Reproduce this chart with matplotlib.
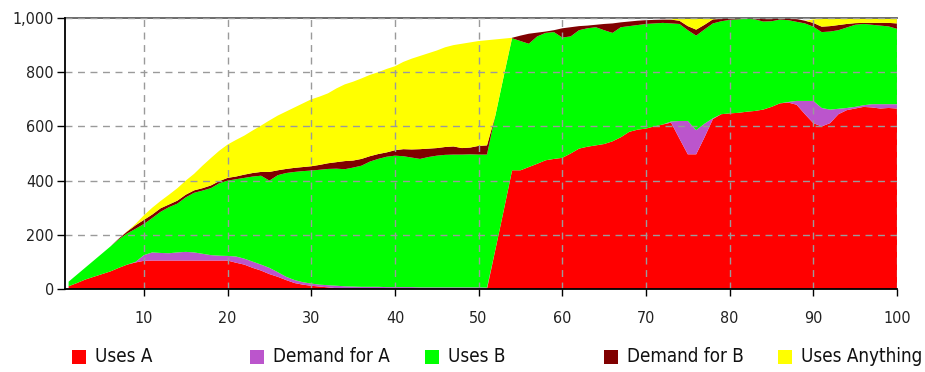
import numpy as np
import matplotlib
matplotlib.use("Agg")
import matplotlib.pyplot as plt
from matplotlib.patches import Rectangle
from matplotlib.ticker import FuncFormatter, FixedLocator
from matplotlib import font_manager

# ---------------- data ----------------
steps = list(range(1, 101))

uses_a = [10, 22, 35, 45, 55, 65, 78, 90, 98, 104,
          105, 105, 105, 105, 105, 105, 105, 105, 105, 105,
          97, 90, 78, 68, 55, 45, 33, 22, 16, 12,
          9, 6, 3, 1, 0, 0, 0, 0, 0, 0,
          0, 0, 0, 0, 0, 0, 0, 0, 0, 0,
          0, 145, 290, 438, 438, 450, 462, 475, 480, 484,
          500, 518, 525, 530, 535, 545, 560, 580, 588, 592,
          600, 607, 614, 555, 497, 497, 560, 627, 645, 648,
          650, 654, 657, 662, 672, 685, 688, 680, 645, 612,
          600, 612, 645, 660, 666, 672, 670, 666, 668, 666]

demand_a = [0, 0, 0, 0, 0, 0, 0, 0, 2, 21,
            30, 28, 27, 30, 32, 30, 25, 20, 18, 17,
            23, 22, 23, 22, 23, 17, 12, 11, 9, 8,
            7, 8, 9, 9, 9, 8, 8, 8, 7, 7,
            7, 7, 6, 6, 6, 6, 6, 6, 6, 6,
            5, 0, 0, 0, 0, 0, 0, 0, 0, 0,
            0, 0, 0, 0, 0, 0, 0, 0, 0, 0,
            0, 0, 4, 65, 123, 89, 50, 3, 0, 0,
            0, 0, 0, 0, 0, 0, 2, 14, 49, 82,
            68, 50, 20, 8, 6, 6, 12, 16, 14, 16]

uses_b = [17, 31, 44, 60, 76, 92, 105, 115, 122, 115,
          127, 152, 170, 180, 201, 220, 233, 247, 267, 278,
          285, 298, 314, 328, 322, 358, 383, 399, 410, 417,
          424, 429, 432, 432, 439, 447, 462, 472, 481, 485,
          483, 478, 474, 481, 486, 489, 490, 490, 491, 490,
          491, 495, 495, 487, 477, 455, 470, 470, 468, 444,
          432, 437, 437, 436, 420, 400, 406, 390, 386, 386,
          380, 375, 362, 358, 335, 349, 348, 350, 343, 345,
          345, 343, 338, 325, 316, 309, 302, 292, 286, 274,
          280, 288, 290, 297, 303, 300, 293, 290, 287, 278]

demand_b = [0, 0, 0, 0, 0, 0, 3, 7, 13, 15,
            13, 13, 10, 11, 10, 9, 9, 10, 8, 10,
            10, 12, 13, 14, 32, 18, 15, 15, 15, 16,
            18, 21, 24, 30, 26, 25, 20, 18, 16, 20,
            26, 30, 36, 31, 28, 29, 30, 24, 25, 32,
            34, 0, 0, 2, 20, 37, 14, 5, 7, 34,
            34, 15, 10, 9, 23, 35, 18, 17, 16, 14,
            13, 12, 14, 12, 15, 22, 17, 15, 9, 5,
            4, 2, 3, 9, 8, 3, 6, 10, 10, 14,
            20, 20, 19, 13, 6, 4, 7, 10, 13, 20]

uses_anything = [0, 0, 0, 0, 0, 0, 0, 1, 5, 17,
                 25, 27, 36, 46, 52, 61, 83, 101, 112, 123,
                 135, 144, 157, 171, 190, 202, 212, 223, 235, 247,
                 252, 258, 272, 283, 291, 297, 300, 302, 308, 310,
                 322, 335, 344, 352, 360, 368, 374, 385, 388, 387,
                 388, 281, 139, 0, 0, 0, 0, 0, 0, 0,
                 0, 0, 0, 0, 0, 0, 0, 0, 0, 0,
                 0, 0, 1, 8, 28, 41, 23, 2, 0, 0,
                 0, 0, 0, 0, 0, 0, 0, 0, 0, 13,
                 29, 27, 23, 19, 16, 15, 15, 15, 15, 17]

labels = ["Uses A", "Demand for A", "Uses B", "Demand for B", "Uses Anything"]
colors = ["#FF0000", "#BB55CC", "#00FF00", "#800000", "#FFFF00"]
x_ticks = [10, 20, 30, 40, 50, 60, 70, 80, 90, 100]
y_ticks = [0, 200, 400, 600, 800, 1000]

# ---------------- font ----------------
plt.rcParams["font.family"] = ["DejaVu Sans"]
has_condensed = any(f.name == "DejaVu Sans" and str(f.stretch) in ("condensed", "semi-condensed")
                    for f in font_manager.fontManager.ttflist)
if has_condensed:
    plt.rcParams["font.stretch"] = "condensed"
tick_size = 11.5 if has_condensed else 11
leg_size = 13.5 if has_condensed else 12.5

# ---------------- figure ----------------
W, H = 925, 372
fig = plt.figure(figsize=(W / 100, H / 100), dpi=100)
ax = fig.add_axes([65 / W, 1 - 289 / H, (897 - 65) / W, (289 - 18) / H])

ax.stackplot(steps, uses_a, demand_a, uses_b, demand_b, uses_anything,
             colors=colors, linewidth=0, zorder=2)

ax.set_xlim(0.57, 100)
ax.set_ylim(0, 1000)
ax.xaxis.set_major_locator(FixedLocator(x_ticks))
ax.yaxis.set_major_locator(FixedLocator(y_ticks))
ax.yaxis.set_major_formatter(FuncFormatter(lambda v, p: f"{int(v):,}"))

ax.grid(True, color="#9A9A9A", linestyle=(0, (5, 4)), linewidth=1.0, zorder=3)
ax.set_axisbelow(False)

for side in ("left", "bottom"):
    ax.spines[side].set_color("black")
    ax.spines[side].set_linewidth(1.3)
    ax.spines[side].set_zorder(4)
ax.spines["top"].set_color("#606060")
ax.spines["top"].set_linewidth(1.3)
ax.spines["right"].set_visible(False)

ax.tick_params(axis="x", direction="out", length=5, width=1, pad=11,
               labelsize=tick_size, colors="black")
ax.tick_params(axis="y", direction="out", length=6, width=1, pad=2,
               labelsize=tick_size, colors="black")
for t in ax.get_xticklabels() + ax.get_yticklabels():
    t.set_color("#222222")

# ---------------- legend ----------------
sq_x = [72, 250, 425, 604, 778]
for px, lab, col in zip(sq_x, labels, colors):
    fig.add_artist(Rectangle((px / W, 1 - 364 / H), 14 / W, 14 / H,
                             transform=fig.transFigure, facecolor=col,
                             edgecolor="none"))
    fig.text((px + 23) / W, 1 - 357 / H, lab, ha="left", va="center",
             fontsize=leg_size, color="#111111")

fig.savefig("out.png", dpi=100)
